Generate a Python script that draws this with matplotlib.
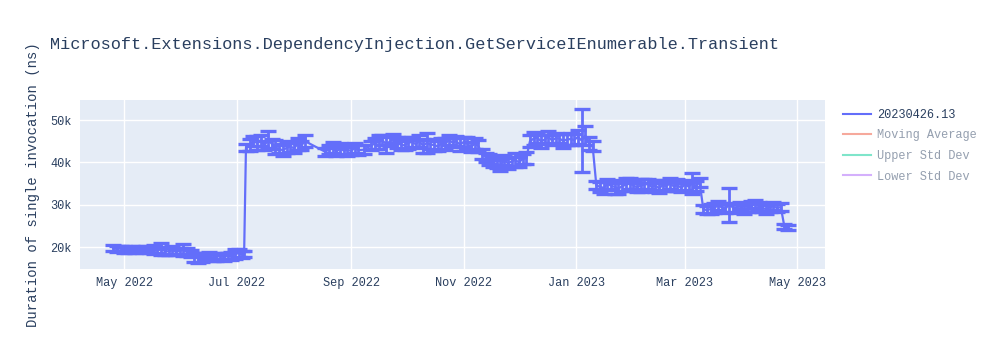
import matplotlib
matplotlib.use("Agg")
import matplotlib.pyplot as plt
import matplotlib.dates as mdates
from matplotlib.lines import Line2D
from matplotlib.ticker import FuncFormatter
import pandas as pd

# benchmark run dates and measured durations (ns) with their std dev
dates = [
    "2022-04-25", "2022-04-27", "2022-04-29", "2022-05-01", "2022-05-03", "2022-05-05",
    "2022-05-07", "2022-05-09", "2022-05-11", "2022-05-13", "2022-05-15", "2022-05-17",
    "2022-05-19", "2022-05-21", "2022-05-23", "2022-05-25", "2022-05-27", "2022-05-29",
    "2022-05-31", "2022-06-02", "2022-06-04", "2022-06-06", "2022-06-08", "2022-06-10",
    "2022-06-12", "2022-06-14", "2022-06-16", "2022-06-18", "2022-06-20", "2022-06-22",
    "2022-06-24", "2022-06-26", "2022-06-28", "2022-06-30", "2022-07-02", "2022-07-04",
    "2022-07-05",
    "2022-07-06", "2022-07-08", "2022-07-10", "2022-07-12", "2022-07-14", "2022-07-16",
    "2022-07-18", "2022-07-20", "2022-07-22", "2022-07-24", "2022-07-26", "2022-07-28",
    "2022-07-30", "2022-08-01", "2022-08-03", "2022-08-05", "2022-08-07",
    "2022-08-18", "2022-08-20", "2022-08-22", "2022-08-24", "2022-08-26", "2022-08-28",
    "2022-08-30", "2022-09-01", "2022-09-03", "2022-09-05", "2022-09-08",
    "2022-09-12", "2022-09-14", "2022-09-16", "2022-09-18", "2022-09-20", "2022-09-22",
    "2022-09-24", "2022-09-26", "2022-09-28", "2022-09-30", "2022-10-02", "2022-10-04",
    "2022-10-06", "2022-10-08", "2022-10-10", "2022-10-12", "2022-10-14", "2022-10-16",
    "2022-10-18", "2022-10-20", "2022-10-22", "2022-10-24", "2022-10-26", "2022-10-28",
    "2022-10-30", "2022-11-01", "2022-11-03", "2022-11-05", "2022-11-07", "2022-11-09",
    "2022-11-11", "2022-11-13", "2022-11-15", "2022-11-17", "2022-11-19", "2022-11-21",
    "2022-11-23", "2022-11-25", "2022-11-27", "2022-11-29", "2022-12-01", "2022-12-03",
    "2022-12-05",
    "2022-12-07", "2022-12-09", "2022-12-11", "2022-12-13", "2022-12-15", "2022-12-17",
    "2022-12-19", "2022-12-21", "2022-12-23", "2022-12-25", "2022-12-27", "2022-12-29",
    "2022-12-31", "2023-01-02", "2023-01-04", "2023-01-06", "2023-01-08", "2023-01-10",
    "2023-01-12", "2023-01-14", "2023-01-16", "2023-01-18", "2023-01-20", "2023-01-22",
    "2023-01-24", "2023-01-26", "2023-01-28", "2023-01-30", "2023-02-01", "2023-02-03",
    "2023-02-05", "2023-02-07", "2023-02-09", "2023-02-11", "2023-02-13", "2023-02-15",
    "2023-02-17", "2023-02-19", "2023-02-21", "2023-02-23", "2023-02-25", "2023-02-27",
    "2023-03-01", "2023-03-03", "2023-03-05", "2023-03-07", "2023-03-09",
    "2023-03-11", "2023-03-13", "2023-03-15", "2023-03-17", "2023-03-19", "2023-03-21",
    "2023-03-23", "2023-03-25", "2023-03-27", "2023-03-29", "2023-03-31", "2023-04-02",
    "2023-04-04", "2023-04-06", "2023-04-08", "2023-04-10", "2023-04-12", "2023-04-14",
    "2023-04-16", "2023-04-18", "2023-04-20", "2023-04-22",
    "2023-04-24", "2023-04-26",
]
values = [
    19.8, 19.5, 19.7, 19.5, 19.3, 19.6,
    19.4, 19.7, 19.3, 19.5, 19.2, 19.4,
    19.2, 19.5, 19.1, 19.0, 19.3, 18.9,
    19.1, 19.4, 18.8, 18.5, 17.6, 17.4,
    17.2, 17.8, 18.0, 17.5, 17.7, 17.9,
    17.6, 18.0, 17.9, 18.3, 18.6, 18.2,
    18.4,
    43.5, 44.2, 45.0, 44.6, 45.2, 44.0,
    45.3, 44.4, 43.6, 43.1, 42.9, 43.4,
    43.8, 43.3, 44.3, 44.0, 45.0,
    42.5, 43.1, 43.5, 42.6, 43.2, 42.8,
    43.0, 42.7, 43.4, 42.9, 43.0,
    44.0, 44.5, 44.8, 45.2, 44.3, 44.9,
    45.6, 44.7, 44.2, 44.0, 44.6, 44.9,
    44.3, 45.1, 43.9, 44.6, 44.2, 44.1,
    43.8, 44.4, 44.3, 45.3, 44.7, 45.0,
    44.2, 44.8, 44.5, 43.6, 44.4, 43.9,
    42.0, 41.2, 40.6, 40.0, 39.6, 39.3,
    40.5, 39.8, 40.2, 40.6, 40.0, 40.8,
    41.0,
    45.0, 45.6, 45.8, 45.0, 45.4, 46.0,
    45.2, 45.7, 45.6, 45.1, 45.4, 45.5,
    45.3, 46.0, 45.2, 46.3, 44.5, 43.8,
    34.6, 34.2, 34.0, 34.9, 34.5, 34.2,
    33.8, 34.4, 34.7, 35.0, 34.6, 34.1,
    34.5, 34.8, 34.9, 34.2, 34.5, 33.9,
    34.6, 34.4, 35.1, 34.3, 34.6, 34.0,
    34.7, 34.3, 35.0, 34.4, 35.3,
    29.0, 28.7, 29.0, 29.3, 29.8, 29.4,
    29.1, 30.0, 29.4, 29.1, 29.9, 28.9,
    29.3, 29.6, 30.2, 29.6, 29.3, 28.9,
    29.4, 29.7, 29.2, 29.5,
    24.8, 24.7,
]
errors = [
    0.6, 0.7, 0.6, 0.8, 0.7, 0.6,
    0.7, 0.6, 0.8, 0.7, 0.6, 1.1,
    0.7, 1.4, 0.9, 0.8, 1.0, 0.7,
    0.8, 1.4, 0.9, 0.8, 1.0, 1.2,
    0.8, 0.7, 0.9, 0.8, 1.0, 0.7,
    0.8, 0.7, 0.9, 1.2, 1.0, 0.8,
    0.8,
    0.9, 1.4, 1.2, 1.6, 1.3, 1.0,
    2.0, 1.2, 1.6, 1.0, 1.4, 1.2,
    1.3, 1.2, 1.4, 1.1, 1.4,
    0.9, 1.1, 1.2, 1.0, 1.3, 1.1,
    1.4, 1.0, 1.2, 1.1, 1.0,
    1.1, 1.3, 1.6, 1.2, 2.0, 1.1,
    1.0, 1.4, 1.2, 1.1, 1.5, 1.2,
    1.0, 1.4, 1.6, 2.4, 1.1, 1.5,
    1.2, 1.3, 1.4, 1.1, 1.0, 1.2,
    1.6, 1.1, 1.4, 1.2, 1.3, 1.4,
    1.2, 1.1, 1.3, 1.2, 1.0, 1.4,
    1.2, 1.3, 1.1, 1.6, 1.2, 1.1,
    1.4,
    1.4, 1.6, 1.2, 1.5, 1.1, 1.4,
    1.2, 1.3, 1.1, 1.6, 1.2, 1.4,
    1.3, 1.6, 7.5, 2.2, 1.6, 1.2,
    1.0, 1.2, 1.4, 1.1, 1.0, 1.6,
    1.3, 1.1, 1.5, 1.2, 1.0, 1.1,
    1.6, 1.3, 1.2, 1.0, 1.4, 1.2,
    1.2, 1.1, 1.3, 1.0, 1.4, 1.1,
    1.2, 1.0, 2.4, 1.2, 1.1,
    1.0, 0.9, 1.1, 1.2, 1.0, 1.1,
    1.0, 4.0, 1.0, 1.1, 0.8, 1.0,
    1.1, 1.2, 0.9, 1.0, 0.9, 1.0,
    1.1, 0.9, 1.0, 1.0,
    0.6, 0.6,
]

series_name = "20230426.13"
hidden_series = ["Moving Average", "Upper Std Dev", "Lower Std Dev"]

plotly_blue = "#636efa"
hidden_colors = ["#EF553B", "#00cc96", "#ab63fa"]
font_color = "#2a3f5f"
mono = "Liberation Mono"

x = pd.to_datetime(dates)
y = [v * 1000 for v in values]
yerr = [e * 1000 for e in errors]

fig = plt.figure(figsize=(10, 3.5), dpi=100)
ax = fig.add_axes([0.08, 0.231, 0.745, 0.483])
ax.set_facecolor("#e5ecf6")
for s in ax.spines.values():
    s.set_visible(False)

ax.errorbar(x, y, yerr=yerr, color=plotly_blue, lw=1.6, elinewidth=2.0,
            capsize=6, capthick=2.4, zorder=3)

ax.set_xlim(pd.Timestamp("2022-04-07"), pd.Timestamp("2023-05-16"))
ax.set_ylim(14800, 54700)
ax.set_yticks([20000, 30000, 40000, 50000])
ax.yaxis.set_major_formatter(FuncFormatter(lambda v, p: f"{int(v/1000)}k"))
ax.xaxis.set_major_locator(mdates.MonthLocator(bymonth=[1, 3, 5, 7, 9, 11]))
ax.xaxis.set_major_formatter(mdates.DateFormatter("%b %Y"))
ax.grid(True, color="white", lw=1)
ax.set_axisbelow(True)
ax.tick_params(length=0, pad=6, labelsize=8.6, labelcolor=font_color)
for lbl in ax.get_xticklabels() + ax.get_yticklabels():
    lbl.set_family(mono)

fig.text(0.05, 1 - 45 / 350, "Microsoft.Extensions.DependencyInjection.GetServiceIEnumerable.Transient",
         family=mono, fontsize=12.2, color=font_color, va="center", ha="left")
fig.text(0.033, 0.473, "Duration of single invocation (ns)", family=mono, fontsize=10,
         color=font_color, rotation=90, va="center", ha="center")

# legend: only the main series is visible, the rest are legend-only (faded)
handles = [Line2D([], [], color=plotly_blue, lw=1.5)]
handles += [Line2D([], [], color=c, lw=1.5, alpha=0.5) for c in hidden_colors]
leg = fig.legend(handles, [series_name] + hidden_series, loc="upper left",
                 bbox_to_anchor=(0.838, 1 - 104 / 350), frameon=False,
                 prop={"family": mono, "size": 8.6}, handlelength=2.4,
                 labelspacing=0.72, handletextpad=0.5, borderaxespad=0)
for i, t in enumerate(leg.get_texts()):
    t.set_color(font_color)
    if i > 0:
        t.set_alpha(0.5)

fig.savefig("out.png", dpi=100)
